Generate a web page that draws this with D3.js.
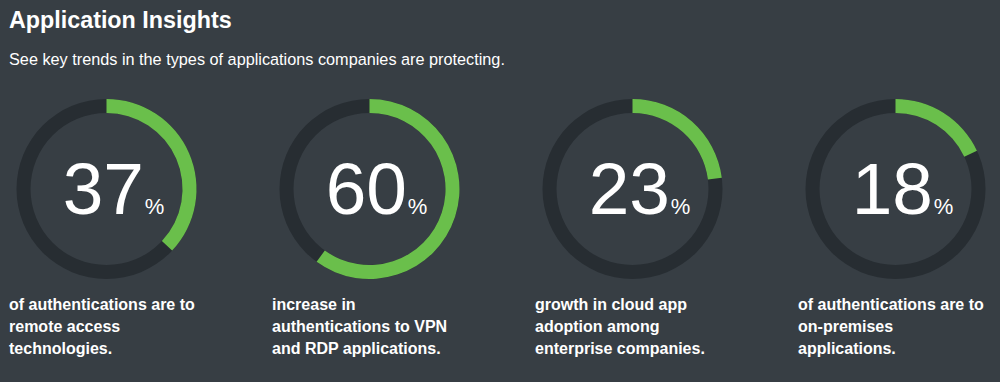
<!DOCTYPE html>
<html><head><meta charset="utf-8">
<script src="https://cdn.jsdelivr.net/npm/d3@7"></script>
<style>
html,body{margin:0;padding:0;background:#373e44;}
svg{display:block;font-family:"Liberation Sans",Arial,Helvetica,sans-serif;}
</style></head>
<body>
<svg id="c" width="1000" height="382"></svg>
<script>
const title = "Application Insights";
const subtitle = "See key trends in the types of applications companies are protecting.";
const values = [37, 60, 23, 18];
const labels = [
  ["of authentications are to", "remote access", "technologies."],
  ["increase in", "authentications to VPN", "and RDP applications."],
  ["growth in cloud app", "adoption among", "enterprise companies."],
  ["of authentications are to", "on-premises", "applications."]
];

const W = 1000, H = 382;
const svg = d3.select("#c");
svg.append("rect").attr("width", W).attr("height", H).attr("fill", "#373e44");

svg.append("text").attr("x", 9).attr("y", 28).attr("fill", "#fff")
  .attr("font-size", 23.3).attr("font-weight", "bold").text(title);
svg.append("text").attr("x", 9).attr("y", 65).attr("fill", "#fff")
  .attr("font-size", 16.25).text(subtitle);

const x = d3.scalePoint().domain(d3.range(values.length)).range([106.5, 895.5]);
const angle = d3.scaleLinear().domain([0, 100]).range([0, 2 * Math.PI]);
const cy = 189, rOut = 90, rIn = 76;
const arc = d3.arc().innerRadius(rIn).outerRadius(rOut);

const g = svg.selectAll("g.item").data(values).enter().append("g")
  .attr("class", "item").attr("transform", (d, i) => `translate(${x(i)},${cy})`);

g.append("path").attr("fill", "#272d32")
  .attr("d", arc({startAngle: 0, endAngle: 2 * Math.PI}));
g.append("path").attr("fill", "#6abf4b")
  .attr("d", d => arc({startAngle: 0, endAngle: angle(d)}));

const t = g.append("text").attr("x", 7).attr("y", 25).attr("text-anchor", "middle").attr("fill", "#fff");
t.append("tspan").attr("font-size", 73).text(d => d);
t.append("tspan").attr("font-size", 22).attr("dx", 1).text("%");

const lab = svg.selectAll("text.lab").data(labels).enter().append("text")
  .attr("class", "lab").attr("fill", "#fff").attr("font-size", 16).attr("font-weight", "bold");
lab.selectAll("tspan").data((d, i) => d.map(s => ({s, i}))).enter().append("tspan")
  .attr("x", d => x(d.i) - 97.5).attr("y", (d, j) => 310 + j * 22).text(d => d.s);
</script>
</body></html>
